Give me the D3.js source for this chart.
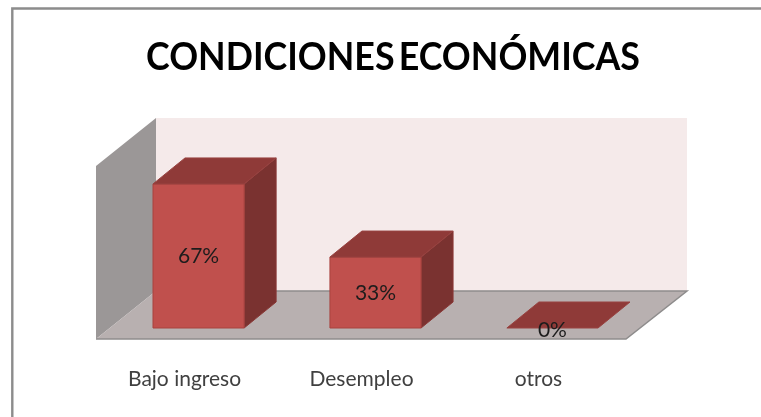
<!DOCTYPE html>
<html>
    <head>
        <meta charset="utf-8">
        <title>Condiciones económicas</title>
        <style>
            html, body { margin: 0; padding: 0; background: #fff; overflow: hidden; }
            svg { display: block; filter: blur(0.45px); }
            text { font-family: Lato, "Open Sans", sans-serif; }
        </style>
        <script src="https://cdnjs.cloudflare.com/ajax/libs/d3/7.0.4/d3.min.js" charset="utf-8"></script>
    </head>
    <body>
        <div id="chart"></div>
        <script>
            const title = "CONDICIONES ECONÓMICAS";
            const categories = ["Bajo ingreso", "Desempleo", "otros"];
            const values = [67, 33, 0];

            const w = 761;
            const h = 417;

            // floor corners and the offset used for the 3d look
            const floorLeft = 96, floorRight = 626, floorFront = 339;
            const wallDx = 60, wallDy = 48, wallTop = 118;
            const depthX = 32, depthY = 26;

            const x = d3.scaleBand().domain(categories).range([153, 598]).paddingInner(0.485);
            const y = d3.scaleLinear().domain([0, 80]).range([328, 156]);

            const svg = d3.select("#chart").append("svg")
                .attr("width", w)
                .attr("height", h);

            const poly = (pts, fill, stroke) => svg.append("polygon")
                .attr("points", pts.map(p => p.join(",")).join(" "))
                .attr("fill", fill)
                .attr("stroke", stroke || "none");

            // frame, open towards the right and the bottom of the picture
            svg.append("path")
                .attr("d", `M12.3,${h + 5} V8.5 H${w + 5}`)
                .attr("fill", "none")
                .attr("stroke", "#8c8c8c")
                .attr("stroke-width", 2.4);

            // walls and floor
            poly([[floorLeft + wallDx, wallTop], [floorRight + wallDx + 1, wallTop],
                  [floorRight + wallDx + 1, floorFront - wallDy], [floorLeft + wallDx, floorFront - wallDy]], "#f5eaea");
            poly([[floorLeft, wallTop + wallDy], [floorLeft + wallDx, wallTop],
                  [floorLeft + wallDx, floorFront - wallDy], [floorLeft, floorFront]], "#9b9797");
            poly([[floorLeft, floorFront], [floorLeft + wallDx, floorFront - wallDy],
                  [floorRight + wallDx + 1, floorFront - wallDy], [floorRight, floorFront]], "#b8b0b0");

            svg.append("path")
                .attr("d", `M${floorLeft},${floorFront} H${floorRight} L${floorRight + wallDx + 1},${floorFront - wallDy} H${floorLeft + wallDx}`)
                .attr("fill", "none")
                .attr("stroke", "#8e8c8c")
                .attr("stroke-width", 1.5);

            // bars
            categories.forEach((c, i) => {
                const x0 = x(c), x1 = x0 + x.bandwidth();
                const yTop = y(values[i]), yBase = y(0);
                if (values[i] > 0) {
                    poly([[x1, yTop], [x1 + depthX, yTop - depthY], [x1 + depthX, yBase - depthY], [x1, yBase]], "#7a3230", "#8a3836");
                    poly([[x0, yBase], [x1, yBase], [x1, yTop], [x0, yTop]], "#c0504d", "#a8423f");
                }
                poly([[x0, yTop], [x1, yTop], [x1 + depthX, yTop - depthY], [x0 + depthX, yTop - depthY]], "#8f3a38", "#984240");
            });

            // value labels
            svg.selectAll(".val")
                .data(values)
                .enter()
                .append("text")
                .attr("class", "val")
                .attr("x", (d, i) => x(categories[i]) + x.bandwidth() / 2)
                .attr("y", d => (y(d) + y(0)) / 2 + (d > 0 ? 7 : 9))
                .attr("text-anchor", "middle")
                .attr("font-size", 21)
                .attr("fill", "#1c1c1c")
                .text(d => d + "%");

            // category labels sit left of the bars because of the depth
            svg.selectAll(".cat")
                .data(categories)
                .enter()
                .append("text")
                .attr("class", "cat")
                .attr("x", d => x(d) + x.bandwidth() / 2 - 14)
                .attr("y", 386)
                .attr("text-anchor", "middle")
                .attr("font-size", 21)
                .attr("fill", "#404040")
                .text(d => d);

            svg.append("text")
                .attr("x", 393)
                .attr("y", 70)
                .attr("text-anchor", "middle")
                .attr("font-size", 39)
                .attr("font-weight", 700)
                .attr("word-spacing", -5)
                .attr("textLength", 494)
                .attr("lengthAdjust", "spacingAndGlyphs")
                .attr("fill", "#000")
                .text(title);
        </script>
    </body>
</html>
